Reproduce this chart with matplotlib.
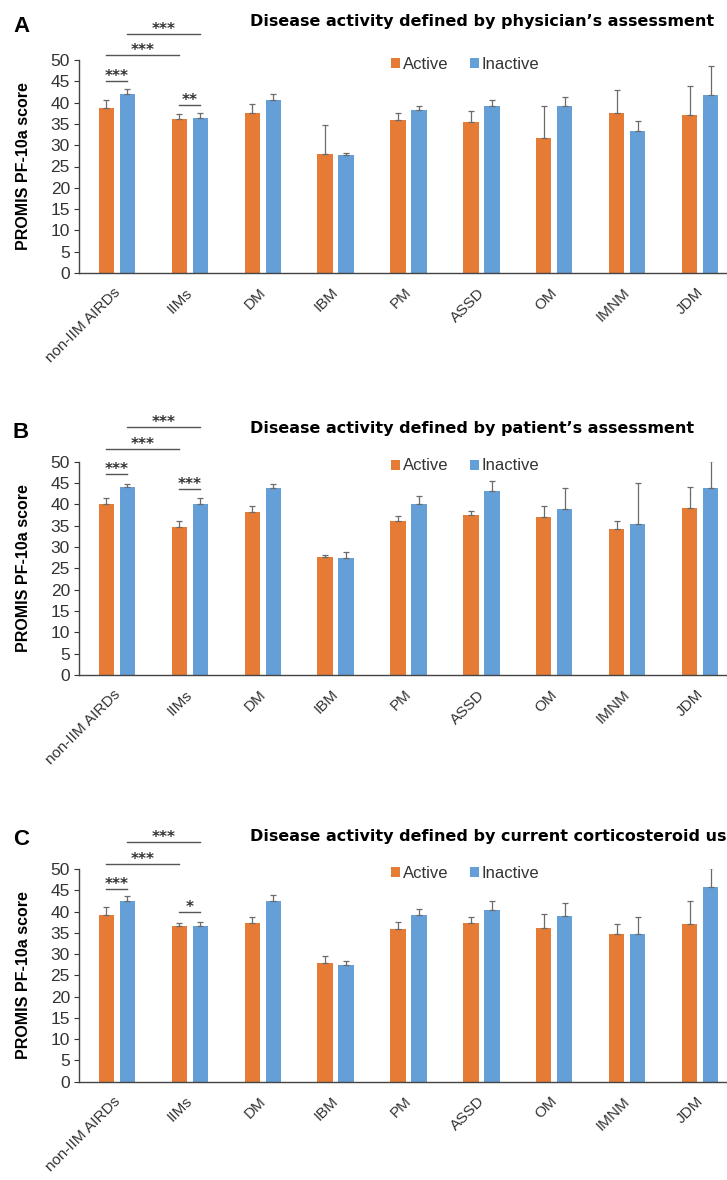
import numpy as np
import matplotlib
matplotlib.use('Agg')
import matplotlib.pyplot as plt
from matplotlib.transforms import ScaledTranslation

plt.rcParams['font.family'] = ['Liberation Sans', 'DejaVu Sans']

groups = ['non-IIM AIRDs', 'IIMs', 'DM', 'IBM', 'PM', 'ASSD', 'OM', 'IMNM', 'JDM']

# panel A: physician's assessment
a_active = [38.8, 36.1, 37.5, 27.9, 35.8, 35.5, 31.6, 37.5, 37.0]
a_active_err = [1.8, 1.2, 2.1, 6.9, 1.7, 2.6, 7.5, 5.4, 6.8]
a_inactive = [42.0, 36.4, 40.5, 27.7, 38.2, 39.3, 39.1, 33.3, 41.7]
a_inactive_err = [1.2, 1.2, 1.5, 0.5, 1.1, 1.2, 2.2, 2.4, 6.9]

# panel B: patient's assessment
b_active = [40.0, 34.8, 38.1, 27.7, 36.0, 37.5, 37.0, 34.2, 39.1]
b_active_err = [1.4, 1.2, 1.5, 0.5, 1.2, 0.9, 2.6, 1.8, 5.0]
b_inactive = [44.1, 40.2, 43.8, 27.4, 40.2, 43.2, 38.8, 35.4, 43.8]
b_inactive_err = [0.6, 1.2, 0.9, 1.4, 1.8, 2.3, 5.0, 9.6, 6.4]

# panel C: corticosteroid use
c_active = [39.2, 36.5, 37.4, 27.8, 36.0, 37.4, 36.2, 34.7, 37.1]
c_active_err = [1.8, 0.9, 1.4, 1.7, 1.5, 1.4, 3.2, 2.3, 5.3]
c_inactive = [42.5, 36.5, 42.5, 27.5, 39.2, 40.4, 38.9, 34.7, 45.8]
c_inactive_err = [1.2, 1.1, 1.5, 0.9, 1.4, 2.0, 3.2, 3.9, 4.4]

# significance lines: (group1, bar1, group2, bar2, height, label) bar 0=active 1=inactive
a_sig = [(0, 0, 0, 1, 45.1, '***'), (0, 0, 1, 0, 51.2, '***'), (0, 1, 1, 1, 56.1, '***'), (1, 0, 1, 1, 39.5, '**')]
b_sig = [(0, 0, 0, 1, 47.1, '***'), (0, 0, 1, 0, 53.0, '***'), (0, 1, 1, 1, 58.2, '***'), (1, 0, 1, 1, 43.5, '***')]
c_sig = [(0, 0, 0, 1, 45.3, '***'), (0, 0, 1, 0, 51.1, '***'), (0, 1, 1, 1, 56.3, '***'), (1, 0, 1, 1, 40.0, '*')]

panels = [
    ('A', "Disease activity defined by physician\u2019s assessment", a_active, a_active_err, a_inactive, a_inactive_err, a_sig),
    ('B', "Disease activity defined by patient\u2019s assessment", b_active, b_active_err, b_inactive, b_inactive_err, b_sig),
    ('C', "Disease activity defined by current corticosteroid use", c_active, c_active_err, c_inactive, c_inactive_err, c_sig),
]

orange = '#E57B35'
blue = '#649FD8'
W, H = 727, 1180
fig = plt.figure(figsize=(W / 100, H / 100), dpi=100)

# pixel rows: y of 50, y of 0, letter baseline, title baseline
rows = [(60, 273, 32, 26), (461.7, 675, 438, 433), (869, 1081.7, 845, 841.5)]
off = 0.144
bw = 0.21
x = np.arange(len(groups))
narrow = ['Liberation Sans Narrow', 'Liberation Sans']

for (letter, title, act, act_e, ina, ina_e, sig), (ytop, ybot, ly, ty) in zip(panels, rows):
    ax = fig.add_axes([79 / W, 1 - ybot / H, 1 - 79 / W, (ybot - ytop) / H])
    ax.bar(x - off, act, bw, color=orange, label='Active', zorder=2)
    ax.bar(x + off, ina, bw, color=blue, label='Inactive', zorder=2)
    ax.errorbar(x - off, act, yerr=[np.zeros(len(act)), act_e], fmt='none',
                ecolor='#6b6b6b', elinewidth=0.9, capsize=2.5, capthick=0.9, zorder=3)
    ax.errorbar(x + off, ina, yerr=[np.zeros(len(ina)), ina_e], fmt='none',
                ecolor='#6b6b6b', elinewidth=0.9, capsize=2.5, capthick=0.9, zorder=3)
    ax.set_xlim(-0.52, 8.37)
    ax.set_ylim(0, 50)
    ax.set_yticks(range(0, 51, 5))
    ax.set_xticks(x)
    ax.set_xticklabels(groups, rotation=45, ha='right', va='top', rotation_mode='anchor',
                       family=narrow)
    ax.tick_params(axis='x', length=0, pad=9, labelsize=11, colors='#333333')
    ax.tick_params(axis='y', length=3.5, width=0.8, pad=3, labelsize=12.5, colors='#333333')
    for lab in ax.get_xticklabels():
        lab.set_transform(lab.get_transform() + ScaledTranslation(-3 / 72, 0, fig.dpi_scale_trans))
    for s in ['top', 'right']:
        ax.spines[s].set_visible(False)
    for s in ['left', 'bottom']:
        ax.spines[s].set_color('#444444')
        ax.spines[s].set_linewidth(1.0)
    ax.set_ylabel('PROMIS PF-10a score', fontweight='bold', fontsize=11.5)
    ax.yaxis.set_label_coords(-0.074, 0.5)
    leg = ax.legend(loc='center', bbox_to_anchor=(0.596, 0.98), ncol=2, frameon=False,
                    handlelength=0.55, handleheight=0.55, handletextpad=0.15,
                    columnspacing=1.3, prop={'family': narrow, 'size': 12})
    for t in leg.get_texts():
        t.set_color('#333333')
    for g1, b1, g2, b2, yv, lab in sig:
        x1 = g1 + (off if b1 else -off)
        x2 = g2 + (off if b2 else -off)
        ax.plot([x1, x2], [yv, yv], color='#555555', lw=1.0, clip_on=False, zorder=4)
        ax.annotate(lab, xy=((x1 + x2) / 2, yv), xytext=(0, 0), textcoords='offset points',
                    ha='center', va='baseline', fontsize=11, fontweight='bold',
                    family='DejaVu Sans', color='#333333', annotation_clip=False)
    fig.text(13 / W, 1 - ly / H, letter, fontsize=16, fontweight='bold',
             va='baseline', ha='left')
    fig.text(250 / W, 1 - ty / H, title, fontsize=11.5, fontweight='bold',
             family='DejaVu Sans', va='baseline', ha='left')

fig.savefig('out.png', dpi=100)
